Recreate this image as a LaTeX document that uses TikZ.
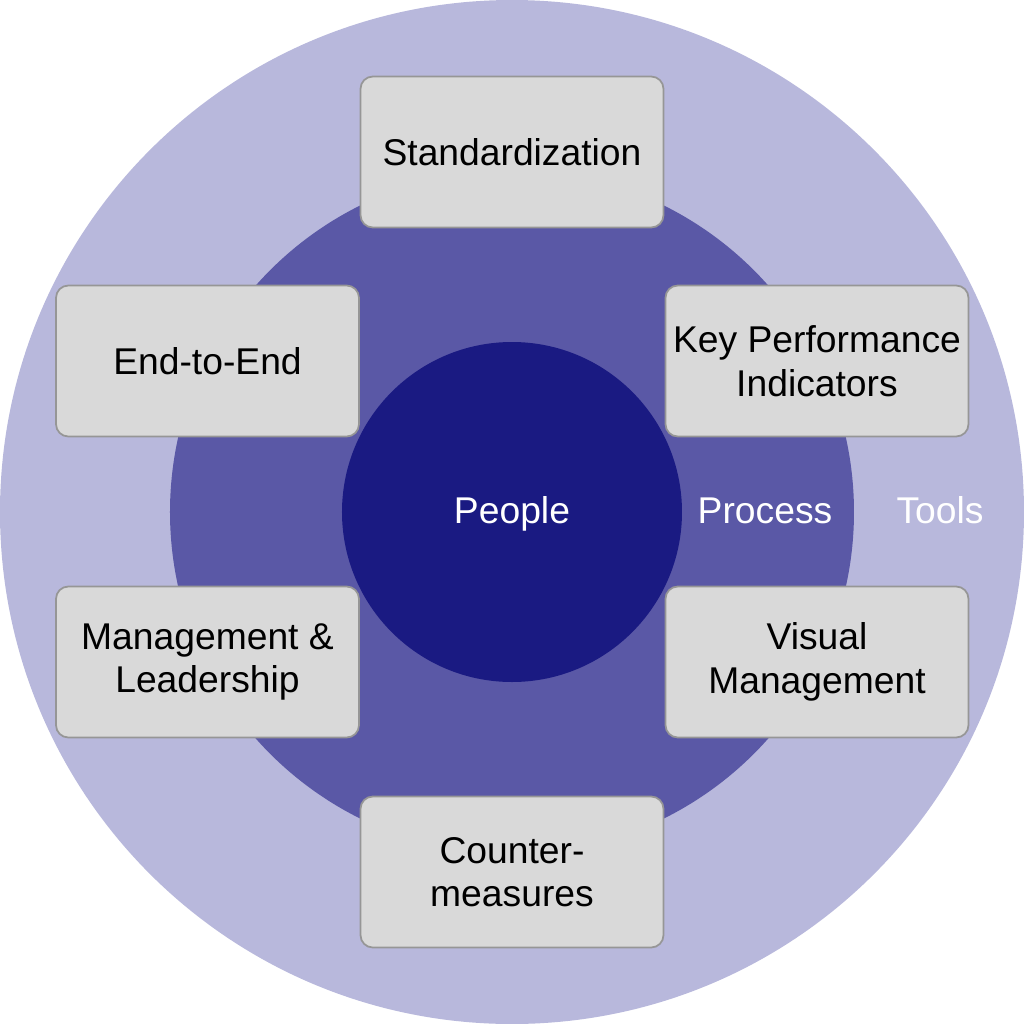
\documentclass[tikz,border=0pt]{standalone}
\usepackage{fontspec}
\setmainfont{Liberation Sans}
\usepackage{xcolor}
\usepackage{tikz}
\usetikzlibrary{positioning}
\definecolor{toolsc}{RGB}{184,184,220}
\definecolor{processc}{RGB}{90,88,166}
\definecolor{peoplec}{RGB}{26,26,130}
\definecolor{boxc}{RGB}{217,217,217}
\definecolor{boxline}{RGB}{150,150,150}

\begin{document}
\begin{tikzpicture}[font=\fontsize{10.6pt}{12.4pt}\selectfont,
  ring/.style={circle,inner sep=0pt},
  lbl/.style={text=white,text height=1.6ex,text depth=0.4ex},
  box/.style={draw=boxline,line width=0.5pt,fill=boxc,rounded corners=3.5pt,
    minimum width=3.03cm,minimum height=1.51cm,align=center,inner sep=1pt}]
\useasboundingbox (-5.12,-5.12) rectangle (5.12,5.12);
\node[ring,fill=toolsc,minimum size=10.24cm] (tools) at (0,0) {};
\node[ring,fill=processc,minimum size=6.84cm] (process) at (0,0) {};
\node[ring,fill=peoplec,minimum size=3.4cm] (people) at (0,0) {};
\node[lbl] (peoplet) at (0,0) {People};
\node[lbl] (processt) at (2.53,0) {Process};
\node[lbl] (toolst) at (4.28,0) {Tools};
% tool boxes around the rings
\node[box] (std) at (0,3.6) {Standardization};
\node[box] (e2e) at (-3.045,1.51) {End-to-End};
\node[box] (kpi) at (3.05,1.51) {Key Performance\\Indicators};
\node[box] (mgmt) at (-3.045,-1.5) {Management \&\\Leadership};
\node[box] (vis) at (3.05,-1.5) {Visual\\Management};
\node[box] (cm) at (0,-3.6) {Counter-\\measures};
\end{tikzpicture}
\end{document}
